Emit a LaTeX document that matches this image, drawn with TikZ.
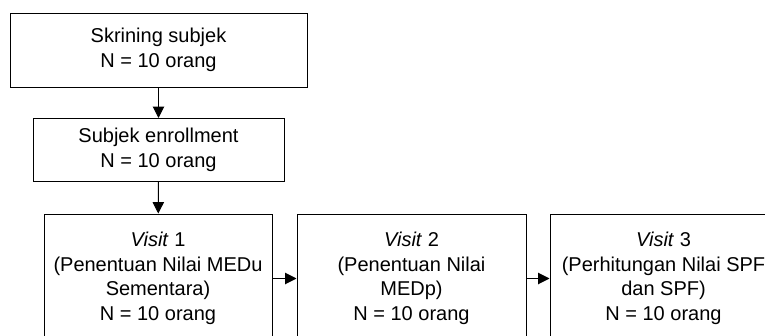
\documentclass[tikz,border=0pt]{standalone}
\usepackage{fontspec}
\setmainfont{Liberation Sans}
\usetikzlibrary{arrows.meta}
\begin{document}
\begin{tikzpicture}[x=0.75pt,y=-0.75pt,
  kotak/.style={draw,line width=0.75pt,align=center,inner sep=0pt,
    font=\fontsize{15}{18.4}\selectfont},
  panah/.style={line width=0.75pt,-{Triangle[length=8.5pt,width=8.5pt]}}]
\clip (0,0) rectangle (765,336);
\node[kotak,minimum width=297pt*0.75,minimum height=74pt*0.75] (skrining) at (158.5,50)
  {Skrining subjek\\N = 10 orang};
\node[kotak,minimum width=251pt*0.75,minimum height=63pt*0.75] (enroll) at (158.5,150)
  {Subjek enrollment\\N = 10 orang};

\node[kotak,minimum width=228pt*0.75,minimum height=129pt*0.75] (visit1) at (158,278.5)
  {\textit{Visit} 1\\(Penentuan Nilai MEDu\\Sementara)\\N = 10 orang};
\node[kotak,minimum width=229pt*0.75,minimum height=129pt*0.75] (visit2) at (411.5,278.5)
  {\textit{Visit} 2\\(Penentuan Nilai\\MEDp)\\N = 10 orang};
\node[kotak,minimum width=227pt*0.75,minimum height=129pt*0.75] (visit3) at (663.5,278.5)
  {\textit{Visit} 3\\(Perhitungan Nilai SPF\\dan SPF)\\N = 10 orang};

\draw[panah] (skrining) -- (enroll);
\draw[panah] (enroll) -- (visit1);
\draw[panah] (visit1) -- (visit2);
\draw[panah] (visit2) -- (visit3);
\end{tikzpicture}
\end{document}
